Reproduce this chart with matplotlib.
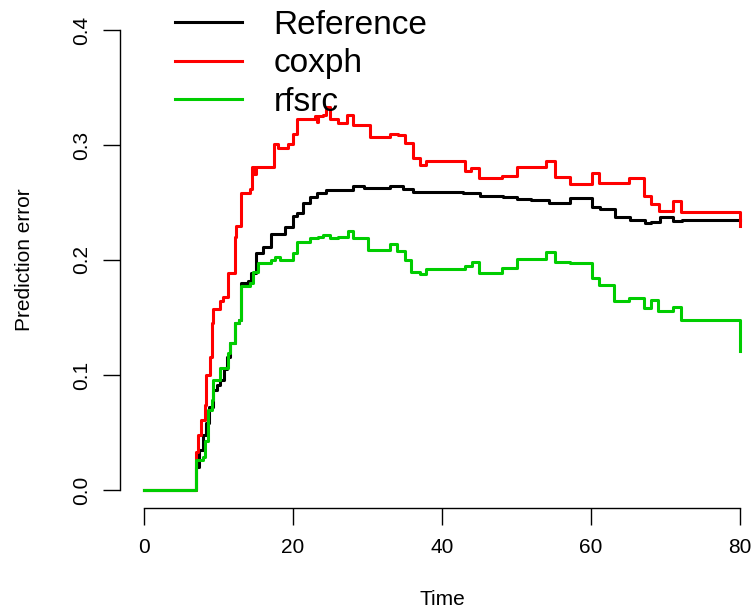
import matplotlib
matplotlib.use('Agg')
import matplotlib.pyplot as plt

plt.rcParams['font.family'] = ['Liberation Sans', 'DejaVu Sans']

# step curves: change points (time) and values after each change
ref_t = [0, 7.0, 7.4, 7.9, 8.4, 8.8, 9.3, 9.8, 10.2, 10.7, 11.1, 11.6, 12.2, 12.8,
         13.1, 14.0, 14.4, 15.1, 16.0, 17.1, 18.9, 20.0, 20.5, 21.4, 22.3, 23.2,
         24.5, 28.0, 29.5, 33.0, 34.8, 36.1, 42.8, 45.1, 48.2, 50.0, 52.0, 54.3,
         57.2, 60.1, 61.2, 63.2, 65.2, 67.2, 68.0, 69.3, 71.0, 72.2, 80.0]
ref_v = [0, 0.020, 0.035, 0.048, 0.058, 0.072, 0.087, 0.091, 0.096, 0.105, 0.116, 0.128, 0.145, 0.148,
         0.180, 0.182, 0.189, 0.206, 0.211, 0.223, 0.229, 0.238, 0.241, 0.250, 0.255, 0.258,
         0.261, 0.264, 0.263, 0.264, 0.262, 0.259, 0.258, 0.256, 0.255, 0.253, 0.252, 0.250,
         0.254, 0.246, 0.244, 0.237, 0.235, 0.232, 0.233, 0.237, 0.234, 0.235, 0.235]

cox_t = [0, 7.0, 7.3, 7.7, 8.2, 8.4, 8.9, 9.1, 9.3, 10.2, 10.6, 11.3, 12.2, 12.4,
         13.1, 14.2, 14.5, 14.8, 15.0, 17.4, 18.0, 19.3, 20.0, 20.5, 22.9, 23.2,
         23.4, 24.0, 24.5, 25.0, 26.0, 27.2, 28.0, 30.3, 33.0, 34.1, 35.0, 36.1,
         37.0, 37.9, 43.1, 43.9, 44.9, 48.0, 50.0, 54.0, 55.2, 57.2, 60.1, 61.1,
         65.1, 67.1, 68.1, 69.1, 71.0, 72.1, 80.0]
cox_v = [0, 0.033, 0.048, 0.061, 0.074, 0.100, 0.116, 0.145, 0.157, 0.164, 0.168, 0.189, 0.220, 0.230,
         0.258, 0.262, 0.281, 0.275, 0.281, 0.301, 0.297, 0.301, 0.310, 0.323, 0.325, 0.320,
         0.325, 0.326, 0.333, 0.323, 0.319, 0.326, 0.317, 0.307, 0.310, 0.309, 0.302, 0.289,
         0.283, 0.286, 0.277, 0.280, 0.271, 0.273, 0.281, 0.286, 0.272, 0.266, 0.276, 0.267,
         0.271, 0.256, 0.249, 0.243, 0.251, 0.242, 0.230]

rf_t = [0, 7.0, 7.9, 8.2, 8.6, 9.1, 9.3, 10.2, 11.3, 11.5, 12.2, 12.7, 13.1, 14.2,
        14.7, 15.3, 17.1, 17.6, 18.3, 20.0, 20.5, 22.3, 23.4, 24.1, 25.0, 26.1,
        27.4, 28.1, 30.1, 33.0, 34.0, 35.0, 35.9, 37.0, 37.9, 43.1, 44.0, 44.9,
        48.0, 50.0, 54.0, 55.2, 57.2, 60.1, 61.1, 63.1, 65.1, 67.1, 68.1, 69.0,
        71.0, 72.1, 80.0]
rf_v = [0, 0.026, 0.029, 0.043, 0.070, 0.078, 0.096, 0.106, 0.119, 0.128, 0.145, 0.148, 0.177, 0.180,
        0.190, 0.197, 0.200, 0.203, 0.200, 0.206, 0.216, 0.219, 0.220, 0.222, 0.219, 0.220,
        0.225, 0.219, 0.209, 0.214, 0.208, 0.200, 0.190, 0.188, 0.192, 0.195, 0.198, 0.189,
        0.193, 0.201, 0.207, 0.198, 0.197, 0.184, 0.178, 0.164, 0.167, 0.158, 0.165, 0.156,
        0.159, 0.148, 0.121]

labels = ['Reference', 'coxph', 'rfsrc']
colors = ['black', '#FF0000', '#00CD00']
x_ticks = [0, 20, 40, 60, 80]
y_ticks = [0.0, 0.1, 0.2, 0.3, 0.4]

fig = plt.figure(figsize=(7.55, 6.1), dpi=100)
ax = fig.add_axes([120 / 755, 101.6 / 610, 644 / 755, 496.8 / 610])

for t, v, lab, c in zip([ref_t, cox_t, rf_t], [ref_v, cox_v, rf_v], labels, colors):
    ax.step(t, v, where='post', color=c, lw=2.2, label=lab)

ax.set_xlim(-3.2, 83.2)
ax.set_ylim(-0.016, 0.416)
for s in ['top', 'right']:
    ax.spines[s].set_visible(False)
ax.spines['left'].set_bounds(0, 0.4)
ax.spines['bottom'].set_bounds(0, 80)
ax.spines['left'].set_linewidth(1)
ax.spines['bottom'].set_linewidth(1)
ax.set_xticks(x_ticks)
ax.set_yticks(y_ticks)
ax.set_yticklabels(['%.1f' % y for y in y_ticks], rotation=90, va='center')
ax.tick_params(length=12, width=1, labelsize=15, pad=9)

ax.set_xlabel('Time', fontsize=15, labelpad=24)
ax.set_ylabel('Prediction error', fontsize=15, labelpad=27)

ax.legend(frameon=False, fontsize=24, loc='upper left',
          bbox_to_anchor=(175 / 755, 1 - 10 / 610), bbox_transform=fig.transFigure,
          borderpad=0, borderaxespad=0, handlelength=2.0, handletextpad=0.95,
          labelspacing=0.22)

fig.savefig('out.png', dpi=100)
